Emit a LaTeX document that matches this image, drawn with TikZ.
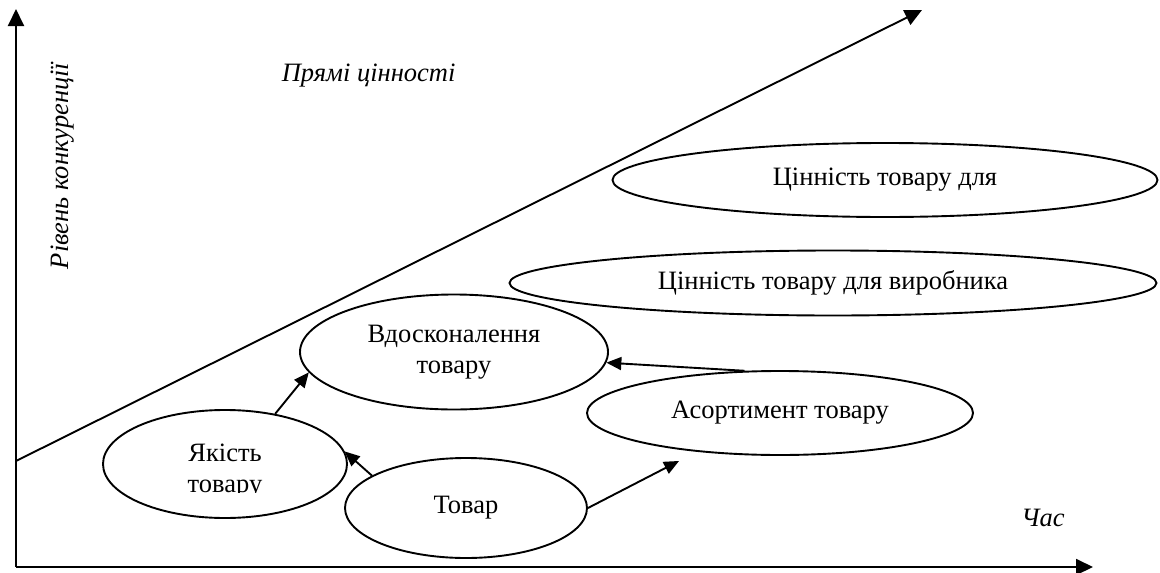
\documentclass[tikz,border=0pt]{standalone}
\usepackage{fontspec}
\setmainfont{Liberation Serif}
\usetikzlibrary{arrows.meta,shapes.geometric}

\begin{document}
\fontsize{26.5}{31}\selectfont
\begin{tikzpicture}[x=1pt,y=-1pt,line width=1.9pt,
  oval/.style={draw,ellipse,inner sep=0pt,align=center},
  axis/.style={-{Triangle[length=17pt,width=16pt]}},
  link/.style={-{Triangle[length=15pt,width=13pt]}},
  lbl/.style={font=\itshape}]
  \useasboundingbox (0,0) rectangle (1160,573);
  \coordinate (o) at (16,567);
  \coordinate (ytop) at (16,9);
  \coordinate (xend) at (1093,567);
  \coordinate (dstart) at (16,461);
  \coordinate (dend) at (922,10);
  \draw[axis] (o)--(ytop);
  \draw[axis] (o)--(xend);
  \draw[axis] (dstart)--(dend);
  \node[lbl,rotate=90] (rivenlbl) at (63,166) {Рівень конкуренції};
  \node[lbl,anchor=west] (pryamilbl) at (272,76) {Прямі цінності};
  \node[lbl] (chaslbl) at (1043,518) {Час};
  \node[oval,minimum width=545pt,minimum height=74pt] (tsinn) at (885,180) {Цінність товару для};
  \node[oval,minimum width=647pt,minimum height=65pt] (tsinnvyr) at (833,283) {Цінність товару для виробника};
  \node[oval,minimum width=308pt,minimum height=115pt] (vdosk) at (454,352) {Вдосконалення\\товару};
  \node[oval,minimum width=386pt,minimum height=84pt] (asort) at (780,413) {Асортимент товару};
  \node[oval,minimum width=244pt,minimum height=108pt] (yakist) at (225,464) {};
  \begin{scope}
    \clip (103,400) rectangle (347,492);
    \node[align=center] (yakisttxt) at (225,471) {Якість\\товару};
  \end{scope}
  \node[oval,minimum width=242pt,minimum height=100pt] (tovar) at (466,508) {Товар};
  \draw[link] (yakist.45) -- (vdosk.188);
  \draw[link] (tovar.161) -- (yakist.6);
  \draw[link,shorten >=20pt] (tovar.east) -- (asort.205);
  \draw[link] (asort.130) -- (vdosk.-4);
\end{tikzpicture}
\end{document}
